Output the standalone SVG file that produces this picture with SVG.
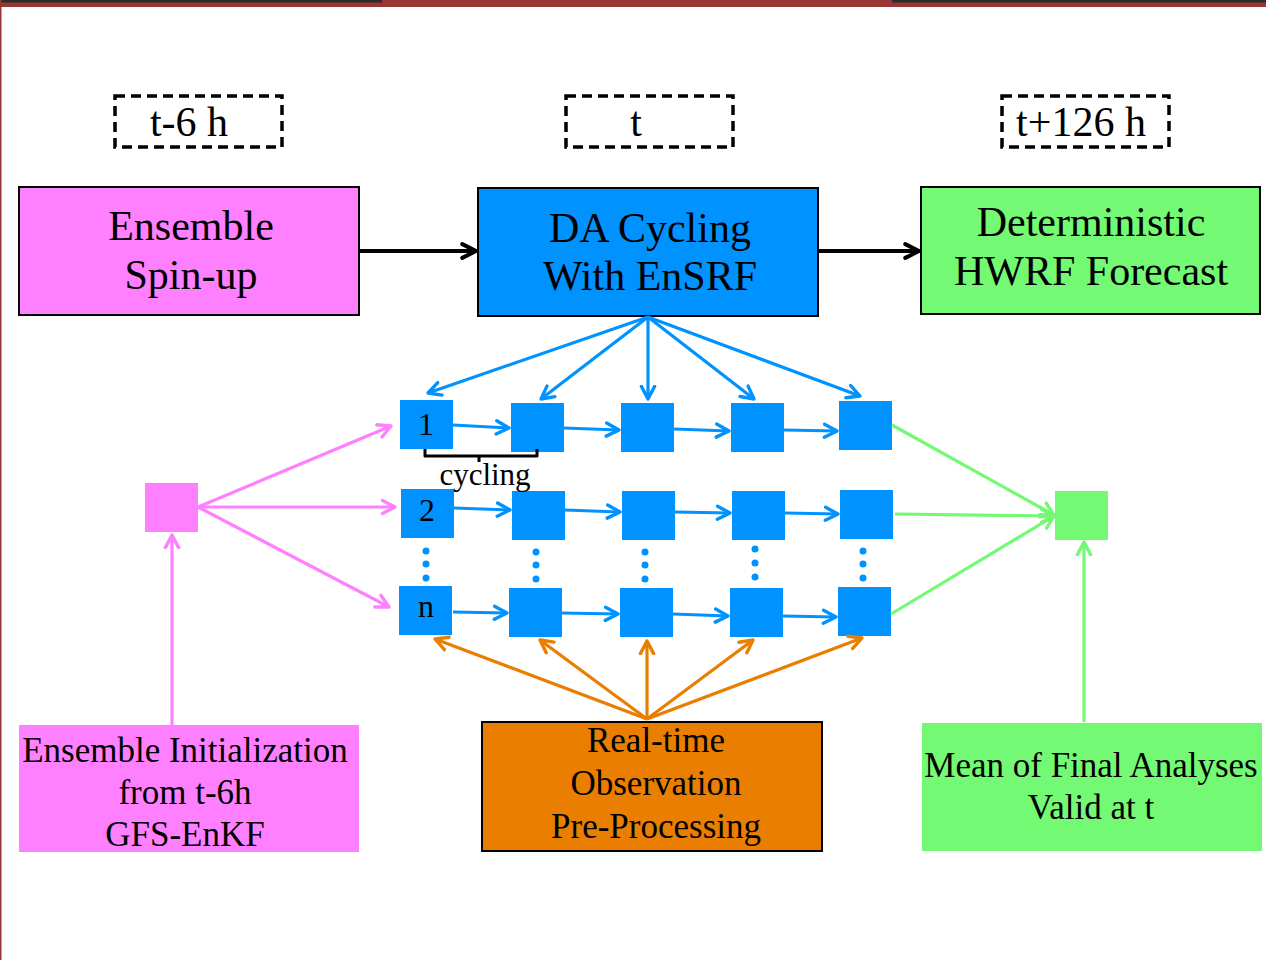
<svg xmlns="http://www.w3.org/2000/svg" width="1266" height="960" viewBox="0 0 1266 960">
<style>
text{font-family:"Liberation Serif","Times New Roman",serif;fill:#000;text-anchor:middle}
.big{font-size:42px}
.mid{font-size:35px}
.tl{font-size:42px}
.dash{fill:none;stroke:#000;stroke-width:3.5;stroke-dasharray:10 6}
.sq{fill:#0093FF}
.bl{stroke:#0093FF;stroke-width:3.2;fill:none;marker-end:url(#ab)}
.pk{stroke:#FF80FF;stroke-width:3.2;fill:none;marker-end:url(#ap)}
.gr{stroke:#73F973;stroke-width:3.2;fill:none;marker-end:url(#ag)}
.or{stroke:#EA7E00;stroke-width:3.2;fill:none;marker-end:url(#ao)}
.bk{stroke:#000;stroke-width:4;fill:none;marker-end:url(#ak)}
.dot{fill:#0093FF}
</style>
<defs>
<marker id="ab" markerWidth="18" markerHeight="18" refX="12" refY="7" orient="auto" markerUnits="userSpaceOnUse" viewBox="0 0 15 14"><path d="M1.5,1.5 L12,7 L1.5,12.5" fill="none" stroke="#0093FF" stroke-width="2.8" stroke-linecap="round" stroke-linejoin="round"/></marker>
<marker id="ap" markerWidth="18" markerHeight="18" refX="12" refY="7" orient="auto" markerUnits="userSpaceOnUse" viewBox="0 0 15 14"><path d="M1.5,1.5 L12,7 L1.5,12.5" fill="none" stroke="#FF80FF" stroke-width="2.8" stroke-linecap="round" stroke-linejoin="round"/></marker>
<marker id="ag" markerWidth="18" markerHeight="18" refX="12" refY="7" orient="auto" markerUnits="userSpaceOnUse" viewBox="0 0 15 14"><path d="M1.5,1.5 L12,7 L1.5,12.5" fill="none" stroke="#73F973" stroke-width="2.8" stroke-linecap="round" stroke-linejoin="round"/></marker>
<marker id="ao" markerWidth="18" markerHeight="18" refX="12" refY="7" orient="auto" markerUnits="userSpaceOnUse" viewBox="0 0 15 14"><path d="M1.5,1.5 L12,7 L1.5,12.5" fill="none" stroke="#EA7E00" stroke-width="2.8" stroke-linecap="round" stroke-linejoin="round"/></marker>
<marker id="ak" markerWidth="20" markerHeight="20" refX="13" refY="7" orient="auto" markerUnits="userSpaceOnUse" viewBox="0 0 16 14"><path d="M2,1.5 L13,7 L2,12.5" fill="none" stroke="#000" stroke-width="3.2" stroke-linecap="round" stroke-linejoin="round"/></marker>
</defs>
<rect width="1266" height="960" fill="#fff"/>
<g id="frame">
<rect x="0" y="0" width="1266" height="7" fill="#983535"/>
<rect x="0" y="0" width="382" height="2.5" fill="#2b2b2b"/>
<rect x="892" y="0" width="374" height="2.5" fill="#2b2b2b"/>
<rect x="0" y="0" width="1.5" height="960" fill="#983535"/>
</g>
<g id="time-t-6">
<rect class="dash" x="115" y="96" width="167" height="51"/>
<text class="tl" x="189" y="136">t-6 h</text>
</g>
<g id="time-t">
<rect class="dash" x="566" y="96" width="167" height="51"/>
<text class="tl" x="636" y="136">t</text>
</g>
<g id="time-t126">
<rect class="dash" x="1002" y="96" width="167" height="51"/>
<text class="tl" x="1081" y="136">t+126 h</text>
</g>
<g id="spinup">
<rect x="19" y="187" width="340" height="128" fill="#FF80FF" stroke="#000" stroke-width="2"/>
<text class="big" x="191" y="240">Ensemble</text>
<text class="big" x="191" y="289">Spin-up</text>
</g>
<g id="dacycling">
<rect x="478" y="188" width="340" height="128" fill="#0093FF" stroke="#000" stroke-width="2"/>
<text class="big" x="650" y="242">DA Cycling</text>
<text class="big" x="650" y="290">With EnSRF</text>
</g>
<g id="forecast">
<rect x="921" y="187" width="339" height="127" fill="#73F973" stroke="#000" stroke-width="2"/>
<text class="big" x="1091" y="236">Deterministic</text>
<text class="big" x="1091" y="285">HWRF Forecast</text>
</g>
<g id="init">
<rect x="19" y="725" width="340" height="127" fill="#FF80FF"/>
<text class="mid" x="185" y="762">Ensemble Initialization</text>
<text class="mid" x="185" y="804">from t-6h</text>
<text class="mid" x="185" y="846">GFS-EnKF</text>
</g>
<g id="obs">
<rect x="482" y="722" width="340" height="129" fill="#EA7E00" stroke="#000" stroke-width="2"/>
<text class="mid" x="656" y="752">Real-time</text>
<text class="mid" x="656" y="795">Observation</text>
<text class="mid" x="656" y="838">Pre-Processing</text>
</g>
<g id="mean">
<rect x="922" y="723" width="340" height="128" fill="#73F973"/>
<text class="mid" x="1091" y="777">Mean of Final Analyses</text>
<text class="mid" x="1091" y="819">Valid at t</text>
</g>
<g id="pink-node"><rect x="145" y="483" width="53" height="49" fill="#FF80FF"/></g>
<g id="green-node"><rect x="1055" y="491" width="53" height="49" fill="#73F973"/></g>
<g id="member-1">
<rect class="sq" x="400" y="400" width="53" height="49"/>
<text x="426" y="435" font-size="32">1</text>
<rect class="sq" x="511" y="403" width="53" height="49"/>
<rect class="sq" x="621" y="403" width="53" height="49"/>
<rect class="sq" x="731" y="403" width="53" height="49"/>
<rect class="sq" x="839" y="401" width="53" height="49"/>
</g>
<g id="member-2">
<rect class="sq" x="401" y="489" width="53" height="49"/>
<text x="427" y="521" font-size="32">2</text>
<rect class="sq" x="512" y="491" width="53" height="49"/>
<rect class="sq" x="622" y="491" width="53" height="49"/>
<rect class="sq" x="732" y="491" width="53" height="49"/>
<rect class="sq" x="840" y="490" width="53" height="49"/>
</g>
<g id="member-n">
<rect class="sq" x="399" y="586" width="53" height="49"/>
<text x="426" y="617" font-size="32">n</text>
<rect class="sq" x="509" y="588" width="53" height="49"/>
<rect class="sq" x="620" y="588" width="53" height="49"/>
<rect class="sq" x="730" y="588" width="53" height="49"/>
<rect class="sq" x="838" y="587" width="53" height="49"/>
</g>
<g id="ellipsis">
<circle class="dot" cx="426" cy="551" r="3.5"/><circle class="dot" cx="426" cy="564" r="3.5"/><circle class="dot" cx="426" cy="578" r="3.5"/>
<circle class="dot" cx="536" cy="552" r="3.5"/><circle class="dot" cx="536" cy="565" r="3.5"/><circle class="dot" cx="536" cy="579" r="3.5"/>
<circle class="dot" cx="645" cy="552" r="3.5"/><circle class="dot" cx="645" cy="565" r="3.5"/><circle class="dot" cx="645" cy="579" r="3.5"/>
<circle class="dot" cx="755" cy="549" r="3.5"/><circle class="dot" cx="755" cy="563" r="3.5"/><circle class="dot" cx="755" cy="577" r="3.5"/>
<circle class="dot" cx="863" cy="551" r="3.5"/><circle class="dot" cx="863" cy="564" r="3.5"/><circle class="dot" cx="863" cy="578" r="3.5"/>
</g>
<g id="cycling-label">
<path d="M425,449 V456 H537 V449 M479,456 V462" fill="none" stroke="#000" stroke-width="3" stroke-linejoin="round"/>
<text x="485" y="485" font-size="31">cycling</text>
</g>
<g id="connectors">
<path class="bk" d="M359,251 H476"/>
<path class="bk" d="M818,251 H919"/>
<path class="bl" d="M648,317 L428,393"/>
<path class="bl" d="M648,317 L541,399"/>
<path class="bl" d="M648,317 L648,399"/>
<path class="bl" d="M648,317 L754,399"/>
<path class="bl" d="M648,317 L860,396"/>
<path class="bl" d="M453,425 L509,428"/>
<path class="bl" d="M564,428 L619,430"/>
<path class="bl" d="M674,429 L729,431"/>
<path class="bl" d="M784,430 L837,431"/>
<path class="bl" d="M454,508 L510,510"/>
<path class="bl" d="M565,510 L620,512"/>
<path class="bl" d="M675,512 L730,513"/>
<path class="bl" d="M785,513 L838,514"/>
<path class="bl" d="M453,612 L507,613"/>
<path class="bl" d="M562,613 L618,614"/>
<path class="bl" d="M673,614 L728,616"/>
<path class="bl" d="M783,616 L836,617"/>
<path class="pk" d="M198,507 L391,426"/>
<path class="pk" d="M198,507 L395,507"/>
<path class="pk" d="M198,507 L389,607"/>
<path class="pk" d="M172,725 L172,535"/>
<path class="gr" d="M892,425 L1054,515"/>
<path class="gr" d="M895,514 L1054,516"/>
<path class="gr" d="M891,614 L1054,516"/>
<path class="gr" d="M1084,722 L1084,542"/>
<path class="or" d="M647,719 L435,639"/>
<path class="or" d="M647,719 L540,640"/>
<path class="or" d="M647,719 L647,641"/>
<path class="or" d="M647,719 L753,640"/>
<path class="or" d="M647,719 L862,638"/>
</g>
</svg>
